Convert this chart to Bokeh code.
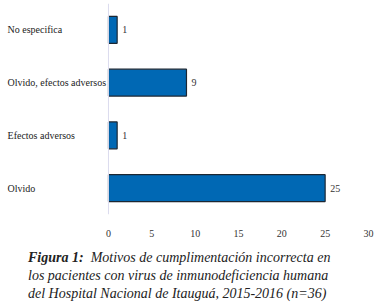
from bokeh.plotting import figure
from bokeh.models import ColumnDataSource, Span, FixedTicker, Div
from bokeh.layouts import column
from bokeh.core.properties import value
from bokeh.embed import file_html
from bokeh.resources import INLINE

categories = ["Olvido", "Efectos adversos", "Olvido, efectos adversos", "No especifica"]
counts = [25, 1, 9, 1]
x_ticks = [0, 5, 10, 15, 20, 25, 30]

FONT = "Liberation Serif"

src = ColumnDataSource(dict(cat=categories, n=counts, lab=[str(c) for c in counts],
                            lx=[-11.65] * len(categories)))

p = figure(width=384, height=245, y_range=categories, x_range=(-12.46, 31.85),
           output_backend="svg", toolbar_location=None,
           min_border_top=3, min_border_bottom=31, min_border_left=0, min_border_right=0)
p.hbar(y="cat", right="n", left=0, height=0.51, source=src,
       fill_color="#0068b4", line_color="#1c2733", line_width=1.2)
p.text(x="n", y="cat", text="lab", source=src, x_offset=5,
       text_align="left", text_baseline="middle", text_font=value(FONT),
       text_font_size="10px", text_color="#333333")
p.text(x="lx", y="cat", text="cat", source=src,
       text_align="left", text_baseline="middle", text_font=value(FONT),
       text_font_size="10px", text_color="#222222")
p.add_layout(Span(location=0, dimension="height", line_color="#dcdcee", line_width=1))

p.yaxis.visible = False
p.xaxis.ticker = FixedTicker(ticks=x_ticks)
p.xaxis.axis_line_color = None
p.xaxis.major_tick_line_color = None
p.xaxis.minor_tick_line_color = None
p.xaxis.major_label_standoff = 9
p.xaxis.major_label_text_font = FONT
p.xaxis.major_label_text_font_size = "10px"
p.xaxis.major_label_text_color = "#333333"
p.grid.visible = False
p.outline_line_color = None

caption = Div(text=("<div style=\"font-family:'Liberation Serif','DejaVu Serif','Times New Roman',serif;"
                    " font-style:italic; font-size:14px;"
                    " line-height:18px; color:#222; white-space:nowrap\">"
                    "<b>Figura 1:</b>&nbsp; Motivos de cumplimentación incorrecta en<br>"
                    "los pacientes con virus de inmunodeficiencia humana<br>"
                    "del Hospital Nacional de Itauguá, 2015-2016 (n=36)</div>"),
              width=356, height=56, margin=(4, 0, 0, 28))

layout = column(p, caption, spacing=0)
open("out.html", "w").write(file_html(layout, INLINE))
